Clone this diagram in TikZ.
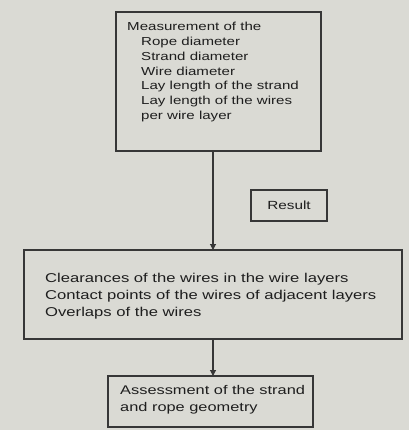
\documentclass[tikz,border=0pt]{standalone}
\usepackage{fontspec}
\setmainfont[FakeStretch=1.3]{Liberation Sans}
\usetikzlibrary{arrows.meta}
\definecolor{bg}{RGB}{218,218,212}
\definecolor{ink}{RGB}{55,55,55}
\definecolor{txt}{RGB}{30,30,30}
\tikzset{
  box/.style={draw=ink, line width=1.3pt, fill=bg, inner sep=0pt},
  label/.style={anchor=north west, inner sep=0pt, align=left, text=txt,
     font=\fontsize{11.6}{14.8}\selectfont},
  conn/.style={draw=ink, line width=1.1pt, -{Triangle[width=6pt,length=6pt]}},
}
\begin{document}
\begin{tikzpicture}[x=1pt,y=-1pt]
\fill[bg] (0,0) rectangle (409,430);
\useasboundingbox (0,0) rectangle (409,430);
% boxes
\draw[box] (116,12) rectangle (321,151);
\coordinate (topbot) at (213,151);
\draw[box] (24,250) rectangle (402,339);
\coordinate (midtop) at (213,250);
\coordinate (midbot) at (213,339);
\draw[box] (108,376) rectangle (313,427);
\coordinate (bottop) at (213,376);
\draw[box, line width=1.8pt] (251,190) rectangle (327,221);
\node[inner sep=0pt, text=txt, font=\fontsize{11.8}{14}\selectfont] (result) at (289,205.5) {Result};
% texts
\node[label] (meas) at (127,22) {Measurement of the\\
\hspace*{14pt}Rope diameter\\
\hspace*{14pt}Strand diameter\\
\hspace*{14pt}Wire diameter\\
\hspace*{14pt}Lay length of the strand\\
\hspace*{14pt}Lay length of the wires\\
\hspace*{14pt}per wire layer};
\node[label, font=\fontsize{12.8}{16.6}\selectfont] (clear) at (45,273.5) {Clearances of the wires in the wire layers\\
Contact points of the wires of adjacent layers\\
Overlaps of the wires};
\node[label, font=\fontsize{12.6}{17}\selectfont] (assess) at (120,385.5) {Assessment of the strand\\
and rope geometry};
% connectors
\draw[conn] (topbot) -- (midtop);
\draw[conn] (midbot) -- (bottop);
\end{tikzpicture}
\end{document}
